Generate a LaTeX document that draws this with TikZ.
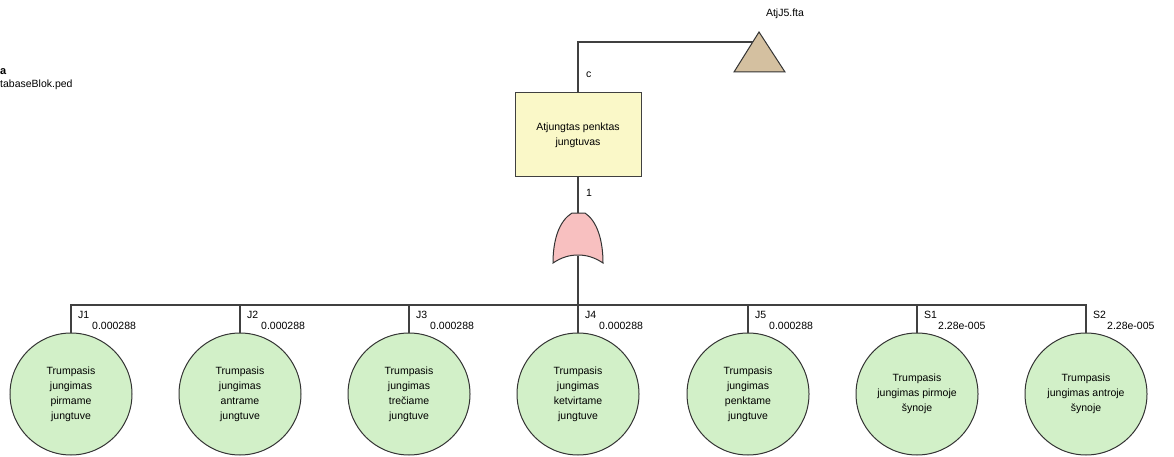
\documentclass[tikz,border=0pt]{standalone}
\usepackage{fontspec}
\setmainfont{Liberation Sans}
\definecolor{eventfill}{RGB}{250,248,200}
\definecolor{basicfill}{RGB}{210,240,200}
\definecolor{gatepink}{RGB}{248,192,192}
\definecolor{transfertan}{RGB}{212,192,160}
\begin{document}
\begin{tikzpicture}[x=1pt,y=-1pt,
  font=\fontsize{10.5}{15}\selectfont,
  wire/.style={draw=black!75, line width=1.1pt},
  event/.style={draw=black!75, line width=1pt, fill=eventfill, rectangle,
    minimum width=126pt, minimum height=84pt, align=center, inner sep=0pt},
  basic/.style={draw=black!80, line width=1pt, fill=basicfill, circle,
    minimum size=122pt, align=center, inner sep=0pt},
  gatefill/.style={draw=black!80, line width=1pt, fill=gatepink},
  transfer/.style={draw=black!80, line width=1pt, fill=transfertan},
  tag/.style={anchor=west, inner sep=0pt},
  prob/.style={anchor=west, inner sep=0pt}
]
\useasboundingbox (0,0) rectangle (1174,457);

% file reference in the corner
\node[tag, font=\fontsize{11}{12}\selectfont\bfseries] (fa) at (0,72) {a};
\node[tag] (fb) at (0,85) {tabaseBlok.ped};

% transfer triangle
\draw[transfer] (759,32) -- (785,72) -- (734,72) -- cycle;
\coordinate (tri) at (753,42);
\node (trilbl) at (785,14) {AtjJ5.fta};

% top event
\node[event] (top) at (578,135) {Atjungtas penktas\\jungtuvas};
\draw[wire] (top.north) |- (tri);
\node[tag] (lc) at (586,75) {c};
\node[tag] (l1) at (586,193) {1};

% OR gate
\coordinate (gtop) at (578,213);
\coordinate (gbot) at (578,256);
\draw[wire] (top.south) -- (gtop);
\draw[gatefill] (572,213) -- (585,213)
  .. controls (597,221) and (603,240) .. (603,263)
  .. controls (594,257) and (586,255) .. (578,255)
  .. controls (570,255) and (562,257) .. (553,263)
  .. controls (553,240) and (559,221) .. (572,213) -- cycle;
\coordinate (bus) at (578,305);
\draw[wire] (gbot) -- (bus);

% basic events
\foreach \n/\x/\lbl/\p/\txt in {
  1/71/J1/0.000288/{Trumpasis\\jungimas\\pirmame\\jungtuve},
  2/240/J2/0.000288/{Trumpasis\\jungimas\\antrame\\jungtuve},
  3/409/J3/0.000288/{Trumpasis\\jungimas\\trečiame\\jungtuve},
  4/578/J4/0.000288/{Trumpasis\\jungimas\\ketvirtame\\jungtuve},
  5/748/J5/0.000288/{Trumpasis\\jungimas\\penktame\\jungtuve},
  6/917/S1/2.28e-005/{Trumpasis\\jungimas pirmoje\\šynoje},
  7/1086/S2/2.28e-005/{Trumpasis\\jungimas antroje\\šynoje}}{
  \node[basic] (b\n) at (\x,394) {\txt};
  \draw[wire] (bus) -| (b\n.north);
  \node[tag] (id\n) at (\x+7,315) {\lbl};
  \node[prob] (pr\n) at (\x+21,326) {\p};
}
\end{tikzpicture}
\end{document}
